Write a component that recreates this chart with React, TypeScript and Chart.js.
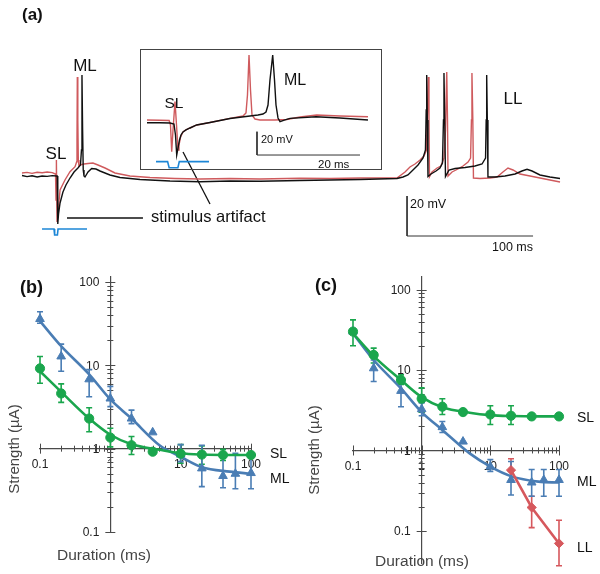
import React, { useEffect, useRef } from 'react';
import { Chart, registerables } from 'chart.js';
Chart.register(...registerables);

const FONT = '"Liberation Sans", Arial, Helvetica, sans-serif';
const AXIS_COLOR = '#4a4a4a';
const TRACE_RED = '#cf5a5d';
const TRACE_BLACK = '#111111';
const STIM_BLUE = '#1c86d6';
const ML_BLUE = '#4a7db4';
const SL_GREEN = '#1aa64d';
const LL_RED = '#d6585d';

// ---------- (a) main recording: [time ms, potential mV]
const MAIN_RED: [number, number][] = [
  [0, -63.5], [4, -63.2], [8, -63.7], [12, -63.1], [16, -63.4], [20, -63.0], [24, -63.3],
  [26.6, -64], [27.0, -77], [27.3, -57], [27.8, -88], [28.6, -83],
  [30.2, -72], [34.1, -67], [38.1, -62.85], [42.1, -60.35], [43.4, -57.85],
  [43.65, -47], [43.9, -15.5], [44.3, -37], [44.7, -57], [45.2, -60],
  [46.0, -59.5], [49.2, -59], [52.4, -58.75], [56.3, -58.5], [60.3, -59.5], [65.9, -61], [73.8, -63.5],
  [85.7, -65], [101.6, -65.75], [121.4, -66.25], [141.3, -66.5], [165.1, -66.25], [188.9, -66.5],
  [220.6, -66.15], [244.4, -66.25], [268.3, -66], [297.6, -66],
  [304.0, -63], [307.9, -60.5], [311.9, -59], [315.9, -57], [319.0, -55], [321.0, -52],
  [321.8, -32], [322.5, -15.5], [323.0, -37], [323.4, -65.35],
  [325.4, -63], [329.4, -61], [332.5, -60], [334.9, -56], [336.1, -42], [337.1, -13], [337.7, -37], [338.1, -65],
  [341.3, -63], [346.0, -61.5], [350.0, -60], [354.0, -58], [356.0, -56], [356.7, -37], [357.1, -13.5], [357.8, -37], [358.3, -66],
  [363.5, -66.25], [371.4, -66], [377.0, -65.5], [381.7, -63], [385.7, -61], [389.7, -62], [395.2, -64],
  [403.2, -65], [411.1, -66], [419.0, -67], [427.0, -68],
];
const MAIN_BLACK: [number, number][] = [
  [0, -64.75], [4, -65.3], [8, -64.9], [12, -65.5], [16, -65.0], [20, -65.2], [24, -64.8],
  [27.2, -65], [27.9, -65], [28.4, -89], [29.0, -84], [30.2, -78.5], [32.5, -73], [34.9, -69.5],
  [38.1, -66], [41.3, -63], [44.4, -61], [46.4, -59.5], [47.2, -52], [47.6, -14.5], [48.1, -42],
  [48.6, -62], [49.2, -65], [50.0, -65.5], [52.4, -63], [55.3, -61.25], [58.7, -61.5], [61.9, -62.5],
  [69.8, -64.5], [77.8, -65.75], [93.7, -66.75], [117.5, -67.5], [141.3, -67.85], [165.1, -67.5],
  [188.9, -67.6], [220.6, -67.25], [244.4, -67], [268.3, -66.75], [297.6, -66.25],
  [302.4, -65.5], [306.3, -64.5], [310.3, -62], [314.3, -59.5], [318.3, -56], [320.2, -52],
  [320.8, -32], [321.2, -14.5], [321.7, -37], [322.2, -65.25],
  [324.6, -64], [328.6, -62.5], [331.7, -61], [333.7, -58.5], [334.5, -37], [334.9, -13.5], [335.5, -37], [336.1, -65.25],
  [338.9, -62], [343.7, -61.25], [351.6, -60.75], [359.5, -60], [365.1, -59], [367.9, -56],
  [368.4, -37], [368.8, -14.5], [369.3, -37], [369.8, -65.5],
  [375.4, -65.5], [383.3, -65], [391.3, -64], [396.8, -62.5], [400.8, -61.65], [404.8, -62.5],
  [411.1, -64.5], [419.0, -65.5], [427.0, -66.25],
];
const MAIN_STIM: [number, number][] = [
  [15.9, -91.5], [25.4, -91.5], [25.9, -94.5], [28.1, -94.5], [28.6, -91.5], [51.6, -91.5],
];
const MAIN_SCALEBAR: [number, number][] = [[305.6, -75], [305.6, -95], [405.6, -95]]; // 20 mV, 100 ms
const MAIN_POINTER_H: [number, number][] = [[35.7, -86], [96.0, -86]];
const MAIN_POINTER_D: [number, number][] = [[127.8, -53], [149.2, -79]];

// ---------- (a) inset: [time ms, potential mV]
const INSET_RED: [number, number][] = [
  [0, -64.1], [2.5, -64.3], [4.3, -64.6], [4.56, -68.4], [4.8, -91.4], [5.05, -72.7], [5.44, -48.4],
  [5.73, -68.4], [6.02, -89.9], [6.21, -85.6], [6.54, -78.5], [6.99, -74.4], [7.57, -72.7], [8.35, -71.0],
  [9.65, -68.4], [12.23, -66.3], [16.12, -62.7], [18.64, -60.7], [19.22, -58.1], [19.51, -42.7],
  [19.81, -8.4], [20.1, -38.4], [20.39, -59.9], [20.97, -63.3], [21.94, -64.1], [24.85, -64.1],
  [27.13, -63.7], [29.71, -61.6], [32.95, -59.9], [37.48, -60.7], [42.91, -61.3],
];
const INSET_BLACK: [number, number][] = [
  [0, -66.5], [2.5, -66.5], [4.47, -66.7], [5.24, -67.6], [5.53, -77.0], [5.77, -94.2], [6.02, -88.2],
  [6.31, -81.3], [6.6, -77.0], [6.99, -74.4], [7.57, -72.7], [8.35, -71.0], [9.65, -68.4], [12.23, -66.3],
  [16.12, -62.85], [20.0, -60.7], [21.55, -59.85], [22.52, -59.0], [23.11, -57.3], [23.5, -51.3],
  [23.88, -29.8], [24.41, -8.35], [24.76, -29.8], [25.05, -51.3], [25.44, -62.4], [25.83, -65.6],
  [26.8, -64.1], [27.77, -62.7], [32.82, -61.3], [37.48, -62.4], [42.91, -64.1],
];
const INSET_STIM: [number, number][] = [
  [1.75, -99.9], [4.0, -99.9], [4.3, -105.1], [6.0, -105.1], [6.27, -99.9], [12.04, -99.9],
];
const INSET_SCALEBAR: [number, number][] = [[21.36, -74.2], [21.36, -94.2], [41.36, -94.2]]; // 20 mV, 20 ms

// ---------- (b) strength-duration, stimulus duration (ms) vs strength (µA)
const B_ML_DUR = [0.1, 0.2, 0.5, 1, 2, 4, 10, 20, 40, 60, 100];
const B_ML = [36, 12.8, 6.8, 4.0, 2.3, 1.57, 0.85, 0.58, 0.47, 0.5, 0.51];
const B_ML_LO = [32, 8.5, 4.2, 3.2, 2.0, null, 0.7, 0.35, 0.34, 0.33, 0.33];
const B_ML_HI = [44, 18, 8.9, 5.6, 2.9, null, 1.12, 1.1, 0.85, 0.88, 0.85];
const B_SL_DUR = [0.1, 0.2, 0.5, 1, 2, 4, 10, 20, 40, 100];
const B_SL = [9.2, 4.6, 2.3, 1.36, 1.1, 0.92, 0.87, 0.85, 0.84, 0.84];
const B_SL_LO = [6.1, 3.6, 1.6, 1.05, 0.85, null, 0.67, 0.65, 0.72, null];
const B_SL_HI = [12.8, 6.0, 3.1, 1.76, 1.4, null, 1.12, 1.08, 0.98, null];
const FIT_DUR = [0.1, 0.2, 0.5, 1, 2, 5, 10, 20, 50, 100];
const B_FIT_ML = [34, 17, 7.8, 3.9, 2.3, 1.1, 0.8, 0.6, 0.53, 0.5];
const B_FIT_SL = [8.5, 4.8, 2.3, 1.47, 1.13, 0.97, 0.88, 0.85, 0.84, 0.84];

// ---------- (c)
const C_SL_DUR = [0.1, 0.2, 0.5, 1, 2, 4, 10, 20, 40, 100];
const C_SL = [30, 15.4, 7.5, 4.4, 3.5, 3.0, 2.8, 2.7, 2.65, 2.65];
const C_SL_LO = [20, 12.2, 6.6, 3.0, 2.8, null, 2.1, 2.1, null, null];
const C_SL_HI = [42, 18.7, 8.7, 6.0, 4.4, null, 3.6, 3.6, null, null];
const C_ML_DUR = [0.1, 0.2, 0.5, 1, 2, 4, 10, 20, 40, 60, 100];
const C_ML = [30, 10.5, 5.5, 3.26, 1.95, 1.29, 0.63, 0.43, 0.40, 0.43, 0.43];
const C_ML_LO = [null, 7.2, 3.5, 2.7, 1.67, null, 0.55, 0.28, 0.27, 0.27, 0.27];
const C_ML_HI = [null, 13.3, 7.5, 3.9, 2.29, null, 0.77, 0.73, 0.58, 0.58, 0.58];
const C_LL_DUR = [20, 40, 100];
const C_LL = [0.57, 0.196, 0.07];
const C_LL_LO = [0.43, 0.11, 0.037];
const C_LL_HI = [0.79, 0.27, 0.136];
const C_FIT_SL = [28.5, 14.9, 7.5, 4.6, 3.45, 2.95, 2.75, 2.68, 2.65, 2.65];
const C_FIT_ML = [28.5, 13.3, 5.9, 3.0, 1.8, 0.92, 0.63, 0.48, 0.41, 0.40];

const LOG_TICK_LABELS = [0.1, 1, 10, 100];

const pts = (a: [number, number][]) => a.map(([x, y]) => ({ x, y }));
const zip = (xs: number[], ys: number[]) => xs.map((x, i) => ({ x, y: ys[i] }));

// minor/major tick marks crossing both axes
const crossTicks = {
  id: 'crossTicks',
  beforeDatasetsDraw(chart: any) {
    const xs = chart.scales.x, ys = chart.scales.y;
    const ctx = chart.ctx;
    const x0 = xs.getPixelForValue(1), y0 = ys.getPixelForValue(1);
    ctx.save();
    ctx.strokeStyle = AXIS_COLOR;
    ctx.lineWidth = 1;
    ctx.beginPath();
    for (let e = -1; e <= 2; e++) {
      for (let s = 1; s <= 9; s++) {
        const v = s * Math.pow(10, e);
        if (v > 100.0001) continue;
        const len = s === 1 ? 5 : 3;
        const py = Math.round(ys.getPixelForValue(v)) + 0.5;
        ctx.moveTo(x0 - len, py); ctx.lineTo(x0 + len, py);
        const px = Math.round(xs.getPixelForValue(v)) + 0.5;
        ctx.moveTo(px, y0 - len); ctx.lineTo(px, y0 + len);
      }
    }
    ctx.stroke();
    // y tick labels, left of the crossing y axis
    ctx.fillStyle = '#222';
    ctx.font = `12px ${FONT}`;
    ctx.textAlign = 'right';
    ctx.textBaseline = 'middle';
    LOG_TICK_LABELS.forEach((v) => {
      ctx.fillText(String(v), x0 - 11, ys.getPixelForValue(v) + 1);
    });
    ctx.restore();
  },
};

const errorBars = {
  id: 'errorBars',
  beforeDatasetsDraw(chart: any) {
    const xs = chart.scales.x, ys = chart.scales.y;
    const ctx = chart.ctx;
    chart.data.datasets.forEach((ds: any) => {
      if (!ds.errLo) return;
      ctx.save();
      ctx.strokeStyle = ds.borderColor;
      ctx.lineWidth = 1.6;
      ctx.beginPath();
      ds.data.forEach((p: any, j: number) => {
        const lo = ds.errLo[j], hi = ds.errHi[j];
        if (lo == null || hi == null) return;
        const x = xs.getPixelForValue(p.x);
        const y1 = ys.getPixelForValue(lo), y2 = ys.getPixelForValue(hi);
        ctx.moveTo(x, y1); ctx.lineTo(x, y2);
        ctx.moveTo(x - 3, y1); ctx.lineTo(x + 3, y1);
        ctx.moveTo(x - 3, y2); ctx.lineTo(x + 3, y2);
      });
      ctx.stroke();
      ctx.restore();
    });
  },
};

function traceDs(data: [number, number][], color: string, width = 1.4) {
  return { data: pts(data), showLine: true, borderColor: color, borderWidth: width, pointRadius: 0, tension: 0, clip: false };
}

function traceConfig(datasets: any[], xMin: number, xMax: number, yMin: number, yMax: number) {
  return {
    type: 'scatter',
    data: { datasets },
    options: {
      responsive: false,
      animation: false,
      layout: { padding: 0 },
      plugins: { legend: { display: false }, tooltip: { enabled: false } },
      scales: {
        x: { type: 'linear', display: false, min: xMin, max: xMax },
        y: { type: 'linear', display: false, min: yMin, max: yMax },
      },
    },
  };
}

function fitDs(xs: number[], ys: number[], color: string) {
  return {
    data: zip(xs, ys), showLine: true, borderColor: color, borderWidth: 2.6, pointRadius: 0,
    cubicInterpolationMode: 'monotone', clip: false,
  };
}
function pointDs(xs: number[], ys: number[], lo: any[], hi: any[], color: string, style: string, r: number, line = false) {
  return {
    data: zip(xs, ys), showLine: line, borderColor: color, backgroundColor: color, borderWidth: line ? 2.6 : 1,
    pointBackgroundColor: color, pointBorderColor: color, pointStyle: style, pointRadius: r, pointBorderWidth: 1,
    errLo: lo, errHi: hi, clip: false, tension: 0,
  };
}

function logConfig(datasets: any[], yMin: number, yMax: number, padding: any) {
  const tickFont = { family: FONT, size: 12 };
  const setTicks = (s: any) => { s.ticks = LOG_TICK_LABELS.map((v) => ({ value: v })); };
  return {
    type: 'scatter',
    data: { datasets },
    options: {
      responsive: false,
      animation: false,
      layout: { padding },
      plugins: { legend: { display: false }, tooltip: { enabled: false } },
      scales: {
        x: {
          type: 'logarithmic', min: 0.1, max: 100, position: { y: 1 },
          grid: { display: false }, border: { display: true, color: AXIS_COLOR, width: 1.2 },
          afterBuildTicks: setTicks,
          ticks: { autoSkip: false, maxRotation: 0, padding: 1, color: '#222', font: tickFont, callback: (v: any) => String(v) },
        },
        y: {
          type: 'logarithmic', min: yMin, max: yMax, position: { x: 1 },
          grid: { display: false }, border: { display: true, color: AXIS_COLOR, width: 1.2 },
          afterBuildTicks: setTicks,
          ticks: { display: false },
        },
      },
    },
    plugins: [crossTicks, errorBars],
  };
}

function ChartCanvas({ left, top, width, height, make }: any) {
  const ref = useRef<HTMLCanvasElement>(null);
  useEffect(() => {
    const chart = new Chart(ref.current as HTMLCanvasElement, make());
    return () => chart.destroy();
  }, []);
  return <canvas ref={ref} width={width} height={height} style={{ position: 'absolute', left, top, width, height }} />;
}

function Txt({ x, y, size, children, bold, anchor = 'left', rotate, color = '#111' }: any) {
  let transform = anchor === 'center' ? 'translate(-50%,-50%)' : anchor === 'right' ? 'translate(-100%,-50%)' : 'translateY(-50%)';
  if (rotate) transform = 'translate(-50%,-50%) rotate(-90deg)';
  return (
    <div style={{ position: 'absolute', left: x, top: y, transform, fontSize: size, fontFamily: FONT, fontWeight: bold ? 700 : 400, color, whiteSpace: 'nowrap', lineHeight: 1 }}>
      {children}
    </div>
  );
}

export default function App() {
  const mainMake = () => traceConfig([
    traceDs(MAIN_BLACK, TRACE_BLACK),
    traceDs(MAIN_RED, TRACE_RED),
    traceDs(MAIN_STIM, STIM_BLUE, 1.6),
    traceDs(MAIN_SCALEBAR, '#333', 1),
    traceDs(MAIN_POINTER_H, '#111', 1.3),
    traceDs(MAIN_POINTER_D, '#111', 1.3),
  ], -17.46, 458.73, -107, 23);
  const insetMake = () => traceConfig([
    traceDs(INSET_BLACK, TRACE_BLACK),
    traceDs(INSET_RED, TRACE_RED),
    traceDs(INSET_STIM, STIM_BLUE, 1.6),
    traceDs(INSET_SCALEBAR, '#333', 1),
  ], -1.165, 45.44, -106.2, -4.06);
  const bMake = () => logConfig([
    pointDs(B_SL_DUR, B_SL, B_SL_LO, B_SL_HI, SL_GREEN, 'circle', 4.6),
    pointDs(B_ML_DUR, B_ML, B_ML_LO, B_ML_HI, ML_BLUE, 'triangle', 5),
    fitDs(FIT_DUR, B_FIT_SL, SL_GREEN),
    fitDs(FIT_DUR, B_FIT_ML, ML_BLUE),
  ], 0.1, 115, { left: 40, right: 49, top: 7, bottom: 42 });
  const cMake = () => logConfig([
    pointDs(C_LL_DUR, C_LL, C_LL_LO, C_LL_HI, LL_RED, 'rectRot', 4.6, true),
    pointDs(C_SL_DUR, C_SL, C_SL_LO, C_SL_HI, SL_GREEN, 'circle', 4.6),
    pointDs(C_ML_DUR, C_ML, C_ML_LO, C_ML_HI, ML_BLUE, 'triangle', 5),
    fitDs(FIT_DUR, C_FIT_SL, SL_GREEN),
    fitDs(FIT_DUR, C_FIT_ML, ML_BLUE),
  ], 0.04, 143, { left: 53, right: 41, top: 7, bottom: 11 });

  return (
    <div style={{ position: 'absolute', left: 0, top: 0, width: 600, height: 574, background: '#fff', overflow: 'hidden' }}>
      <ChartCanvas left={0} top={0} width={600} height={260} make={mainMake} />
      <div style={{ position: 'absolute', left: 140, top: 49, width: 242, height: 121, boxSizing: 'border-box', border: '1px solid #444' }} />
      <ChartCanvas left={141} top={50} width={240} height={119} make={insetMake} />
      <ChartCanvas left={0} top={270} width={300} height={304} make={bMake} />
      <ChartCanvas left={300} top={270} width={300} height={304} make={cMake} />

      <Txt x={22} y={14} size={17} bold>(a)</Txt>
      <Txt x={56} y={153} size={17} anchor="center">SL</Txt>
      <Txt x={85} y={65} size={17} anchor="center">ML</Txt>
      <Txt x={513} y={98} size={17} anchor="center">LL</Txt>
      <Txt x={151} y={216} size={16.5}>stimulus artifact</Txt>
      <Txt x={174} y={103} size={15.5} anchor="center">SL</Txt>
      <Txt x={295} y={80} size={16} anchor="center">ML</Txt>
      <Txt x={261} y={139} size={11}>20 mV</Txt>
      <Txt x={318} y={165} size={11.5}>20 ms</Txt>
      <Txt x={410} y={204} size={12.5}>20 mV</Txt>
      <Txt x={533} y={247} size={12.5} anchor="right">100 ms</Txt>

      <Txt x={20} y={287} size={18} bold>(b)</Txt>
      <Txt x={270} y={453} size={14}>SL</Txt>
      <Txt x={270} y={478} size={14}>ML</Txt>
      <Txt x={13} y={449} size={15} rotate color="#444">Strength (µA)</Txt>
      <Txt x={104} y={555} size={15.5} anchor="center" color="#444">Duration (ms)</Txt>

      <Txt x={315} y={285} size={18} bold>(c)</Txt>
      <Txt x={577} y={417} size={14}>SL</Txt>
      <Txt x={577} y={481} size={14}>ML</Txt>
      <Txt x={577} y={547} size={14}>LL</Txt>
      <Txt x={313} y={450} size={15} rotate color="#444">Strength (µA)</Txt>
      <Txt x={422} y={561} size={15.5} anchor="center" color="#444">Duration (ms)</Txt>
    </div>
  );
}
